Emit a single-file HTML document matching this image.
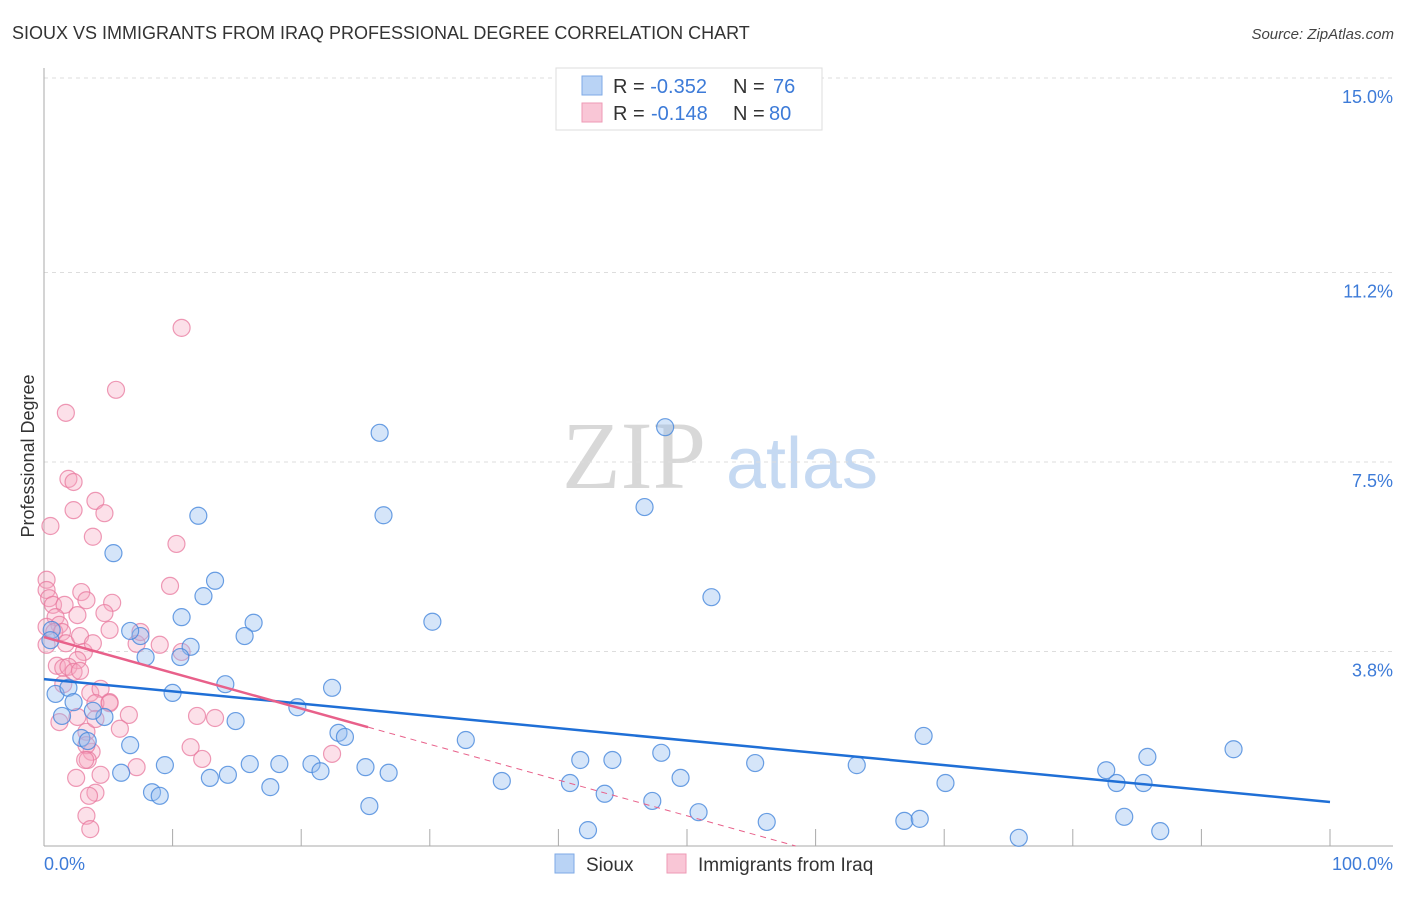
<!DOCTYPE html>
<html><head><meta charset="utf-8"><style>
body{margin:0;background:#fff;width:1406px;height:892px;overflow:hidden;font-family:"Liberation Sans",sans-serif}
svg text{font-family:"Liberation Sans",sans-serif}
</style></head><body>
<svg id="c" width="1406" height="892" xmlns="http://www.w3.org/2000/svg">
<text x="12" y="39" font-size="18" fill="#333">SIOUX VS IMMIGRANTS FROM IRAQ PROFESSIONAL DEGREE CORRELATION CHART</text>
<text x="1394" y="39" font-size="15" fill="#444" font-style="italic" text-anchor="end">Source: ZipAtlas.com</text>
<g>
<text x="634" y="488" font-size="96" fill="#d8d8d8" font-family="Liberation Serif" text-anchor="middle" style="font-family:'Liberation Serif',serif">ZIP</text>
<text x="802" y="488" font-size="72" fill="#c5d9f2" text-anchor="middle">atlas</text>
</g>
<text transform="translate(34,456) rotate(-90)" font-size="18" fill="#333" text-anchor="middle">Professional Degree</text>
<g id="grid"></g><g id="axes"></g><g id="pts"></g><g id="lines"></g>
<g>
<rect x="556" y="68" width="266" height="62" fill="#fff" stroke="#ddd"/>
<rect x="582" y="76" width="20" height="19" fill="#b9d3f5" stroke="#7ea9e6"/>
<rect x="582" y="103" width="20" height="19" fill="#f9c6d6" stroke="#ee9ab5"/>
<text x="613" y="93" font-size="20" fill="#333">R = <tspan fill="#3d7bd8">-0.352</tspan><tspan x="733">N = </tspan><tspan x="773" fill="#3d7bd8">76</tspan></text>
<text x="613" y="120" font-size="20" fill="#333">R = <tspan x="651" fill="#3d7bd8">-0.148</tspan><tspan x="733">N = </tspan><tspan x="769" fill="#3d7bd8">80</tspan></text>
</g>
<g>
<rect x="555" y="854" width="19" height="19" fill="#b9d3f5" stroke="#7ea9e6"/>
<text x="586" y="871" font-size="19" fill="#333">Sioux</text>
<rect x="667" y="854" width="19" height="19" fill="#f9c6d6" stroke="#ee9ab5"/>
<text x="698" y="871" font-size="19" fill="#333">Immigrants from Iraq</text>
</g>
</svg>
<script>
const yTicks=[15.0,11.2,7.5,3.8];
const yTickLabels=["15.0%","11.2%","7.5%","3.8%"];
const xTickVals=[0,10,20,30,40,50,60,70,80,90,100];
const xEndLabels=["0.0%","100.0%"];
const siouxX=[26.1,48.3,12.0,26.4,46.7,5.4,13.3,12.4,10.7,51.9,16.3,30.2,15.6,7.5,6.7,11.4,7.9,10.6,0.6,0.5,14.1,10.0,22.4,0.9,1.9,19.7,2.3,4.7,1.4,3.8,14.9,22.9,23.4,2.9,3.4,32.8,68.4,92.5,85.8,48.0,41.7,44.2,6.7,9.4,16.0,18.3,20.8,21.5,25.0,26.8,55.3,63.2,82.6,6.0,14.3,12.9,35.6,40.9,49.5,70.1,83.4,85.5,17.6,8.4,9.0,43.6,47.3,25.3,50.9,56.2,66.9,68.1,84.0,42.3,86.8,75.8];
const siouxY=[8.07,8.18,6.45,6.46,6.62,5.72,5.18,4.88,4.47,4.86,4.36,4.38,4.10,4.10,4.20,3.89,3.69,3.69,4.22,4.02,3.16,2.99,3.09,2.97,3.09,2.71,2.81,2.52,2.54,2.64,2.44,2.21,2.13,2.11,2.05,2.07,2.15,1.89,1.74,1.82,1.68,1.68,1.97,1.58,1.60,1.60,1.60,1.46,1.54,1.43,1.62,1.58,1.48,1.43,1.39,1.33,1.27,1.23,1.33,1.23,1.23,1.23,1.15,1.05,0.98,1.02,0.88,0.78,0.66,0.47,0.49,0.53,0.57,0.31,0.29,0.16];
const iraqX=[10.7,5.6,1.7,1.9,2.3,2.3,4.0,4.7,0.5,3.8,10.3,9.8,0.2,0.2,0.4,0.7,2.9,5.3,3.3,1.6,4.7,2.6,0.9,1.2,0.2,0.8,1.4,1.7,2.8,5.1,0.2,3.1,3.8,2.6,7.2,10.7,1.0,1.5,1.9,2.3,2.8,1.5,3.6,4.4,5.1,4.0,5.1,11.9,13.3,6.6,2.6,1.2,3.3,4.0,5.9,3.7,3.3,11.4,12.3,3.4,7.2,22.4,2.5,4.4,4.0,3.5,3.3,3.6,9.0,7.5,3.2];
const iraqY=[10.12,8.91,8.46,7.17,7.11,6.56,6.74,6.50,6.25,6.04,5.90,5.08,5.20,5.00,4.84,4.71,4.96,4.75,4.80,4.71,4.55,4.51,4.47,4.32,4.28,4.18,4.18,3.96,4.10,4.22,3.93,3.79,3.96,3.63,3.95,3.79,3.52,3.48,3.50,3.40,3.42,3.16,2.99,3.07,2.81,2.79,2.79,2.54,2.50,2.56,2.52,2.42,2.23,2.48,2.29,1.84,1.97,1.93,1.70,1.68,1.54,1.80,1.33,1.39,1.04,0.98,0.59,0.33,3.93,4.18,1.68];
const siouxTrend=[3.26,0.86];      // y at x=0, x=100
const iraqTrend=[4.08,-0.0698];    // intercept, slope
const iraqSolidEnd=25.2;
const X0=44,X1=1330,Y0=846,YT=78;
const sx=v=>X0+(X1-X0)*v/100;
const sy=v=>Y0-(Y0-YT)*v/15;
const NS="http://www.w3.org/2000/svg";
function mk(t,a,p){const e=document.createElementNS(NS,t);for(const k in a)e.setAttribute(k,a[k]);p.appendChild(e);return e;}
const grid=document.getElementById('grid'),axes=document.getElementById('axes'),pts=document.getElementById('pts'),lines=document.getElementById('lines');
yTicks.forEach((v,i)=>{
 const l=mk('line',{x1:X0,x2:1393,y1:sy(v),y2:sy(v),stroke:'#ddd','stroke-dasharray':'4,4'},grid);
 
 
 const t=mk('text',{x:1393,y:sy(v)+25,'font-size':18,fill:'#3d7bd8','text-anchor':'end'},grid);
 t.textContent=yTickLabels[i];
 
 
});
const ya=mk('line',{x1:X0,x2:X0,y1:68,y2:Y0,stroke:'#aaa'},axes);


const xa=mk('line',{x1:X0,x2:1393,y1:Y0,y2:Y0,stroke:'#aaa'},axes);


xTickVals.forEach(v=>{
 const t=mk('line',{x1:sx(v),x2:sx(v),y1:Y0-17,y2:Y0,stroke:'#aaa'},axes);
 
 
});
[[0,'start',X0],[100,'end',1393]].forEach((d,i)=>{
 const t=mk('text',{x:d[2],y:870,'font-size':18,fill:'#3d7bd8','text-anchor':d[1]},axes);
 t.textContent=xEndLabels[i];
 
 
});
iraqX.forEach((x,i)=>{
 const c=mk('circle',{cx:sx(x),cy:sy(iraqY[i]),r:8.5,fill:'rgba(245,165,192,0.35)',stroke:'rgba(232,120,158,0.75)','stroke-width':1.2},pts);
 
 
});
siouxX.forEach((x,i)=>{
 const c=mk('circle',{cx:sx(x),cy:sy(siouxY[i]),r:8.5,fill:'rgba(150,190,240,0.4)',stroke:'rgba(70,135,220,0.8)','stroke-width':1.2},pts);
 
 
});
const bl=mk('line',{x1:sx(0),y1:sy(siouxTrend[0]),x2:sx(100),y2:sy(siouxTrend[1]),stroke:'#1f6fd6','stroke-width':2.5},lines);


const py=x=>iraqTrend[0]+iraqTrend[1]*x;
const zeroX=-iraqTrend[0]/iraqTrend[1];
const pd=mk('line',{x1:sx(iraqSolidEnd),y1:sy(py(iraqSolidEnd)),x2:sx(zeroX),y2:sy(0),stroke:'#e8608a','stroke-width':1,'stroke-dasharray':'6,5'},lines);


const pl=mk('line',{x1:sx(0),y1:sy(py(0)),x2:sx(iraqSolidEnd),y2:sy(py(iraqSolidEnd)),stroke:'#e8608a','stroke-width':2.5},lines);


</script>
</body></html>
